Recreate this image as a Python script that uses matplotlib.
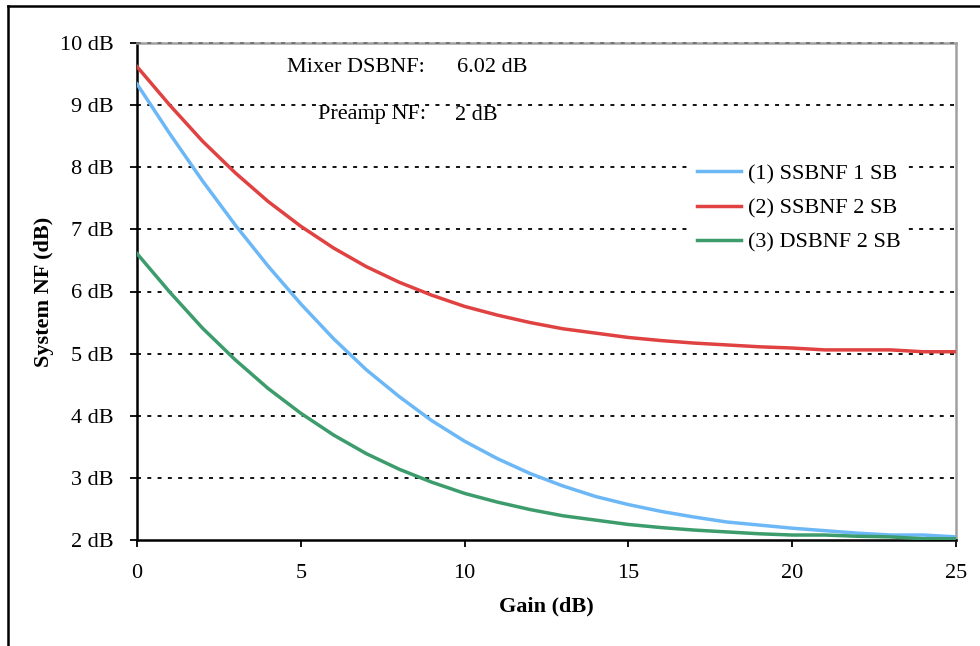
import numpy as np
import matplotlib.pyplot as plt
from matplotlib.lines import Line2D

plt.rcParams['font.family'] = ['Liberation Serif', 'DejaVu Serif']

# Preamp gain (dB)
gain = list(range(0, 26))

# (1) SSBNF 1 SB
ssb_1sb = [9.34, 8.54, 7.78, 7.07, 6.41, 5.80, 5.24, 4.74, 4.31, 3.92,
           3.59, 3.31, 3.07, 2.87, 2.70, 2.57, 2.46, 2.37, 2.29, 2.24,
           2.19, 2.15, 2.11, 2.08, 2.08, 2.05]
# (2) SSBNF 2 SB
ssb_2sb = [9.62, 9.00, 8.42, 7.91, 7.45, 7.05, 6.70, 6.40, 6.15, 5.94,
           5.76, 5.62, 5.50, 5.40, 5.33, 5.26, 5.21, 5.17, 5.14, 5.11,
           5.09, 5.06, 5.06, 5.06, 5.03, 5.03]
# (3) DSBNF 2 SB
dsb_2sb = [6.61, 5.99, 5.41, 4.90, 4.44, 4.04, 3.69, 3.39, 3.14, 2.93,
           2.75, 2.61, 2.49, 2.39, 2.32, 2.25, 2.20, 2.16, 2.13, 2.10,
           2.08, 2.08, 2.06, 2.05, 2.02, 2.02]

yticks = list(range(2, 11))
ytick_labels = [f"{v} dB" for v in yticks]
xticks = [0, 5, 10, 15, 20, 25]

W, H = 980, 646
fig = plt.figure(figsize=(W / 100, H / 100), dpi=100)
ax = fig.add_axes([137/W, 106/H, (956-137)/W, (540-43)/H])

# dotted grid lines
for v in yticks[1:-1]:
    ax.axhline(v, color='black', lw=1.3, ls=(0, (2.2, 3.5)), zorder=1)
ax.axhline(10, color='#707070', lw=1.3, ls=(0, (2.2, 3.5)), zorder=2.6, clip_on=False)

ax.plot(gain, ssb_1sb, color='#6cb8f6', lw=2.5, label='(1) SSBNF 1 SB', zorder=3)
ax.plot(gain, ssb_2sb, color='#e04141', lw=2.5, label='(2) SSBNF 2 SB', zorder=3)
ax.plot(gain, dsb_2sb, color='#3c9c6c', lw=2.5, label='(3) DSBNF 2 SB', zorder=3)

ax.set_xlim(0, 25)
ax.set_ylim(2, 10)
ax.set_xticks(xticks)
ax.set_yticks(yticks)
ax.set_yticklabels(ytick_labels)
ax.tick_params(axis='both', direction='out', length=5, width=1.3, labelsize=16)
ax.tick_params(axis='y', pad=12)
ax.tick_params(axis='x', pad=12)

for s in ['left', 'bottom']:
    ax.spines[s].set_linewidth(1.8)
    ax.spines[s].set_color('black')
for s in ['top', 'right']:
    ax.spines[s].set_linewidth(1.8)
    ax.spines[s].set_color('#a0a0a0')

ax.set_xlabel('Gain (dB)', fontsize=16, fontweight='bold', labelpad=10)
ax.set_ylabel('System NF (dB)', fontsize=16, fontweight='bold', labelpad=4)

def px_text(x, y, s):
    ax.text(x, H - y, s, transform=None, fontsize=16, va='center')

px_text(287, 67, 'Mixer DSBNF:')
px_text(457, 67, '6.02 dB')
px_text(318, 115, 'Preamp NF:')
px_text(455, 115, '2 dB')

leg = ax.legend(loc='upper left', bbox_to_anchor=((690-137)/(956-137), (540-157)/(540-43)),
                frameon=True, fontsize=16, handlelength=2.0, handletextpad=0.3,
                labelspacing=0.62, borderaxespad=0, borderpad=0.3)
leg.get_frame().set_edgecolor('none')
leg.get_frame().set_facecolor('white')
leg.get_frame().set_alpha(1)
leg.set_zorder(4)

# outer frame (left and top edges)
fig.add_artist(Line2D([8/W, 8/W], [0, (H-6)/H], color='black', lw=1.8, transform=fig.transFigure))
fig.add_artist(Line2D([8/W, 1], [(H-6)/H, (H-6)/H], color='black', lw=1.8, transform=fig.transFigure))

fig.savefig('out.png', dpi=100)
